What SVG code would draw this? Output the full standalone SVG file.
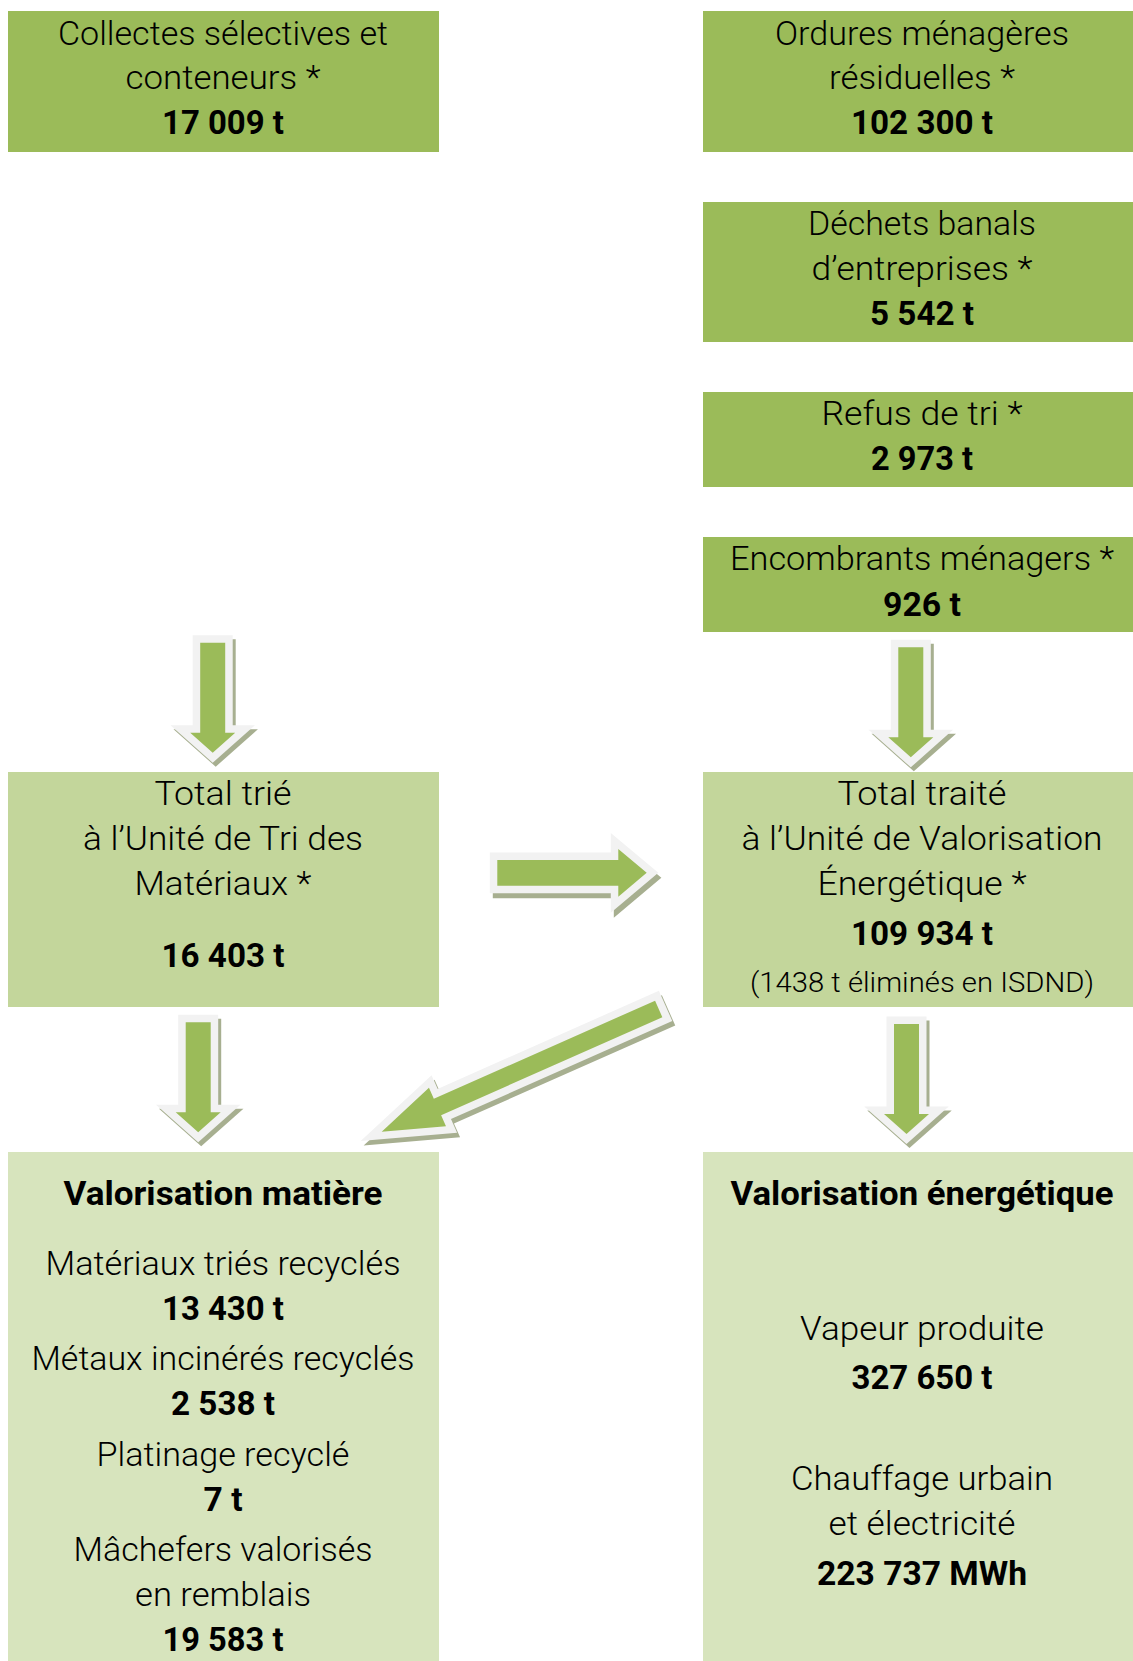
<svg xmlns="http://www.w3.org/2000/svg" xmlns:xlink="http://www.w3.org/1999/xlink" width="1133" height="1661" viewBox="0 0 1133 1661">
<style>
.dark{fill:#9BBB59}
.mid{fill:#C3D69B}
.light{fill:#D7E4BD}
text{font-family:Roboto,"Liberation Sans",sans-serif;font-weight:300;font-size:34px;fill:#000;text-anchor:middle}
text.b{font-weight:700}
text.s{font-size:27px}
.shadow{fill:#A7AF90;stroke:#A7AF90;stroke-width:15;stroke-linejoin:miter;stroke-miterlimit:6}
.arrow{fill:#9BBB59;stroke:#F2F2F2;stroke-width:15;stroke-linejoin:miter;stroke-miterlimit:6;paint-order:stroke}
</style>
<defs>
<path id="darrow" d="M-12.5,0H12.5V90H22.5L0,110L-22.5,90H-12.5Z"/>
<path id="diag" d="M0,0L61,-21V-9H303V9H61V21Z"/>
</defs>
<rect width="1133" height="1661" fill="#FFFFFF"/>

<g id="collectes">
<rect class="dark" x="8" y="11" width="431" height="141"/>
<text x="223" y="45" textLength="330" lengthAdjust="spacingAndGlyphs">Collectes sélectives et</text>
<text x="223" y="89" textLength="195" lengthAdjust="spacingAndGlyphs">conteneurs *</text>
<text class="b" x="223" y="134" textLength="122" lengthAdjust="spacingAndGlyphs">17 009 t</text>
</g>

<g id="ordures">
<rect class="dark" x="703" y="11" width="430" height="141"/>
<text x="922" y="45" textLength="294" lengthAdjust="spacingAndGlyphs">Ordures ménagères</text>
<text x="922" y="89" textLength="186" lengthAdjust="spacingAndGlyphs">résiduelles *</text>
<text class="b" x="922" y="134" textLength="142" lengthAdjust="spacingAndGlyphs">102 300 t</text>
</g>

<g id="dechets">
<rect class="dark" x="703" y="202" width="430" height="140"/>
<text x="922" y="235" textLength="228" lengthAdjust="spacingAndGlyphs">Déchets banals</text>
<text x="922" y="280" textLength="221" lengthAdjust="spacingAndGlyphs">d’entreprises *</text>
<text class="b" x="922" y="325" textLength="104" lengthAdjust="spacingAndGlyphs">5 542 t</text>
</g>

<g id="refus">
<rect class="dark" x="703" y="392" width="430" height="95"/>
<text x="922" y="425" textLength="201" lengthAdjust="spacingAndGlyphs">Refus de tri *</text>
<text class="b" x="922" y="470" textLength="102" lengthAdjust="spacingAndGlyphs">2 973 t</text>
</g>

<g id="encombrants">
<rect class="dark" x="703" y="537" width="430" height="95"/>
<text x="922" y="570" textLength="384" lengthAdjust="spacingAndGlyphs">Encombrants ménagers *</text>
<text class="b" x="922" y="616" textLength="78" lengthAdjust="spacingAndGlyphs">926 t</text>
</g>

<g id="total-trie">
<rect class="mid" x="8" y="772" width="431" height="235"/>
<text x="223" y="805" textLength="137" lengthAdjust="spacingAndGlyphs">Total trié</text>
<text x="223" y="850" textLength="280" lengthAdjust="spacingAndGlyphs">à l’Unité de Tri des</text>
<text x="223" y="895" textLength="177" lengthAdjust="spacingAndGlyphs">Matériaux *</text>
<text class="b" x="223" y="967" textLength="123" lengthAdjust="spacingAndGlyphs">16 403 t</text>
</g>

<g id="total-traite">
<rect class="mid" x="703" y="772" width="430" height="235"/>
<text x="922" y="805" textLength="169" lengthAdjust="spacingAndGlyphs">Total traité</text>
<text x="922" y="850" textLength="361" lengthAdjust="spacingAndGlyphs">à l’Unité de Valorisation</text>
<text x="922" y="895" textLength="209" lengthAdjust="spacingAndGlyphs">Énergétique *</text>
<text class="b" x="922" y="945" textLength="142" lengthAdjust="spacingAndGlyphs">109 934 t</text>
<text class="s" x="922" y="992" textLength="344" lengthAdjust="spacingAndGlyphs">(1438 t éliminés en ISDND)</text>
</g>

<g id="valorisation-matiere">
<rect class="light" x="8" y="1152" width="431" height="509"/>
<text class="b" x="223" y="1205" textLength="319" lengthAdjust="spacingAndGlyphs">Valorisation matière</text>
<text x="223" y="1275" textLength="355" lengthAdjust="spacingAndGlyphs">Matériaux triés recyclés</text>
<text class="b" x="223" y="1320" textLength="122" lengthAdjust="spacingAndGlyphs">13 430 t</text>
<text x="223" y="1370" textLength="383" lengthAdjust="spacingAndGlyphs">Métaux incinérés recyclés</text>
<text class="b" x="223" y="1415" textLength="104" lengthAdjust="spacingAndGlyphs">2 538 t</text>
<text x="223" y="1466" textLength="253" lengthAdjust="spacingAndGlyphs">Platinage recyclé</text>
<text class="b" x="223" y="1511" textLength="39" lengthAdjust="spacingAndGlyphs">7 t</text>
<text x="223" y="1561" textLength="299" lengthAdjust="spacingAndGlyphs">Mâchefers valorisés</text>
<text x="223" y="1606" textLength="176" lengthAdjust="spacingAndGlyphs">en remblais</text>
<text class="b" x="223" y="1651" textLength="121" lengthAdjust="spacingAndGlyphs">19 583 t</text>
</g>

<g id="valorisation-energetique">
<rect class="light" x="703" y="1152" width="430" height="509"/>
<text class="b" x="922" y="1205" textLength="383" lengthAdjust="spacingAndGlyphs">Valorisation énergétique</text>
<text x="922" y="1340" textLength="244" lengthAdjust="spacingAndGlyphs">Vapeur produite</text>
<text class="b" x="922" y="1389" textLength="141" lengthAdjust="spacingAndGlyphs">327 650 t</text>
<text x="922" y="1490" textLength="262" lengthAdjust="spacingAndGlyphs">Chauffage urbain</text>
<text x="922" y="1535" textLength="187" lengthAdjust="spacingAndGlyphs">et électricité</text>
<text class="b" x="922" y="1585" textLength="210" lengthAdjust="spacingAndGlyphs">223 737 MWh</text>
</g>

<g id="connectors">
<use xlink:href="#darrow" href="#darrow" class="shadow" transform="translate(215.7,646.7)"/>
<use xlink:href="#darrow" href="#darrow" class="arrow" transform="translate(212.7,642.7)"/>
<use xlink:href="#darrow" href="#darrow" class="shadow" transform="translate(913.8,651.3)"/>
<use xlink:href="#darrow" href="#darrow" class="arrow" transform="translate(910.8,647.3)"/>
<path class="shadow" transform="translate(3,5)" d="M497.3,860H618.3V849L646.7,872.85L618.3,896.7V885.7H497.3Z"/>
<path class="arrow" d="M497.3,860H618.3V849L646.7,872.85L618.3,896.7V885.7H497.3Z"/>
<use xlink:href="#darrow" href="#darrow" class="shadow" transform="translate(201.2,1026.3)"/>
<use xlink:href="#darrow" href="#darrow" class="arrow" transform="translate(198.2,1022.3)"/>
<use xlink:href="#darrow" href="#darrow" class="shadow" transform="translate(909.5,1028)"/>
<use xlink:href="#darrow" href="#darrow" class="arrow" transform="translate(906.5,1024)"/>
<use xlink:href="#diag" href="#diag" class="shadow" transform="translate(384.7,1136.2) rotate(-23.9)"/>
<use xlink:href="#diag" href="#diag" class="arrow" transform="translate(381.7,1131.7) rotate(-23.9)"/>
</g>
</svg>
